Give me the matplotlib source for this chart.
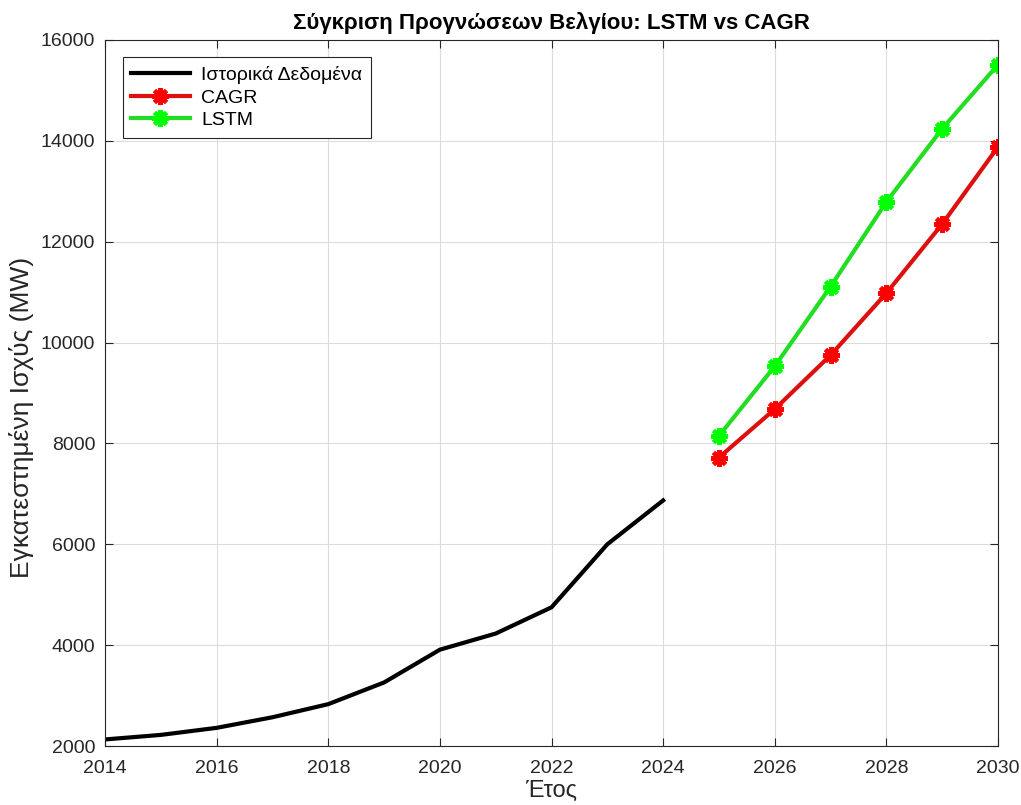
import numpy as np
import matplotlib.pyplot as plt

plt.rcParams['font.family'] = ['Liberation Sans', 'DejaVu Sans']

# Ιστορικά δεδομένα
hist_years = [2014, 2015, 2016, 2017, 2018, 2019, 2020, 2021, 2022, 2023, 2024]
hist_mw = [2130, 2220, 2360, 2570, 2830, 3260, 3910, 4230, 4750, 6000, 6870]

# Προβλέψεις
pred_years = [2025, 2026, 2027, 2028, 2029, 2030]
cagr_mw = [7720, 8680, 9750, 10980, 12350, 13880]
lstm_mw = [8150, 9530, 11110, 12790, 14240, 15510]

fig = plt.figure(figsize=(10.21, 8.05), dpi=100)
ax = fig.add_axes([105 / 1021, 59 / 805, 893 / 1021, 706 / 805])

star = (8, 2, 0)
ax.plot(hist_years, hist_mw, color='k', lw=3, label='Ιστορικά Δεδομένα')
ax.plot(pred_years, cagr_mw, color='#dd1010', lw=3, marker=star, ms=12,
        mfc='#ff0000', mec='#ff0000', mew=3, label='CAGR')
ax.plot(pred_years, lstm_mw, color='#22dd22', lw=3, marker=star, ms=12,
        mfc='#00ff00', mec='#00ff00', mew=3, label='LSTM')

ax.set_xlim(2014, 2030)
ax.set_ylim(2000, 16000)
ax.set_xticks(np.arange(2014, 2031, 2))
ax.set_yticks(np.arange(2000, 16001, 2000))
ax.tick_params(direction='in', top=True, right=True, labelsize=14, length=6,
               color='#262626', labelcolor='#262626')
ax.tick_params(axis='x', pad=10)
ax.tick_params(axis='y', pad=7)
ax.grid(True, color='#dcdcdc', lw=0.8)
for s in ax.spines.values():
    s.set_color('#262626')
    s.set_linewidth(0.8)

ax.set_title('Σύγκριση Προγνώσεων Βελγίου: LSTM vs CAGR', fontsize=16, fontweight='bold', pad=8)
ax.set_xlabel('Έτος', fontsize=17, color='#262626', labelpad=2)
ax.set_ylabel('Εγκατεστημένη Ισχύς (MW)', fontsize=19, color='#262626')
ax.yaxis.set_label_coords(-0.08, 0.465)

leg = ax.legend(loc='upper left', fontsize=14, fancybox=False, framealpha=1,
                edgecolor='#262626', borderaxespad=0.9, handlelength=3.0,
                labelspacing=0.25, borderpad=0.45, handletextpad=0.6)
leg.get_frame().set_linewidth(0.8)

fig.savefig('out.png', dpi=100)
